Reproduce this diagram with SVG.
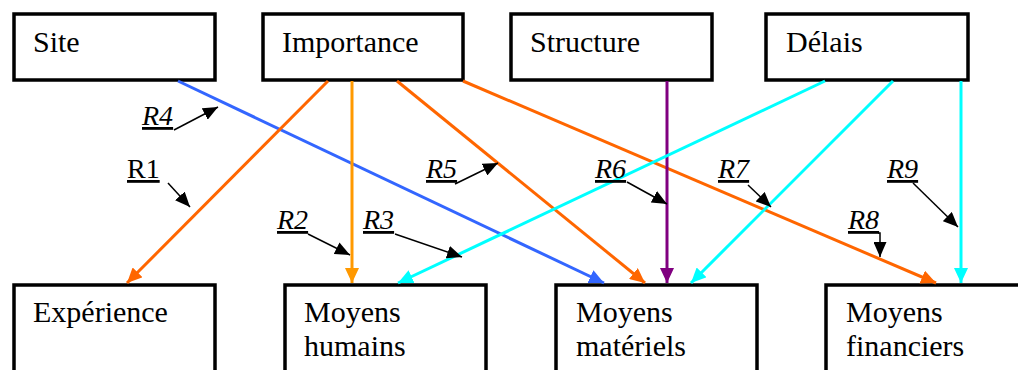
<svg xmlns="http://www.w3.org/2000/svg" width="1018" height="370" viewBox="0 0 1018 370">
<style>
.box{fill:#fff;stroke:#000;stroke-width:3.5}
.t{font-family:"Liberation Serif","Times New Roman",serif;font-size:30px;fill:#000}
.l{font-family:"Liberation Serif","Times New Roman",serif;font-size:28px;fill:#000;text-decoration:underline}
.i{font-style:italic}
.c{fill:none;stroke-width:3}
.ld{fill:none;stroke:#000;stroke-width:1.5}
</style>
<defs>
<marker id="aB" markerUnits="userSpaceOnUse" markerWidth="15" markerHeight="14" refX="15" refY="7" orient="auto"><path d="M0,0L15,7L0,14z" fill="#3366FF"/></marker>
<marker id="aO" markerUnits="userSpaceOnUse" markerWidth="15" markerHeight="14" refX="15" refY="7" orient="auto"><path d="M0,0L15,7L0,14z" fill="#FF6600"/></marker>
<marker id="aY" markerUnits="userSpaceOnUse" markerWidth="15" markerHeight="14" refX="15" refY="7" orient="auto"><path d="M0,0L15,7L0,14z" fill="#FF9900"/></marker>
<marker id="aP" markerUnits="userSpaceOnUse" markerWidth="15" markerHeight="14" refX="15" refY="7" orient="auto"><path d="M0,0L15,7L0,14z" fill="#800080"/></marker>
<marker id="aC" markerUnits="userSpaceOnUse" markerWidth="15" markerHeight="14" refX="15" refY="7" orient="auto"><path d="M0,0L15,7L0,14z" fill="#00FFFF"/></marker>
<marker id="aK" markerUnits="userSpaceOnUse" markerWidth="15" markerHeight="13" refX="15" refY="6.5" orient="auto"><path d="M0,0L15,6.5L0,13z" fill="#000"/></marker>
</defs>
<g id="site"><rect class="box" x="14" y="14" width="201" height="66"/><text class="t" x="33" y="52">Site</text></g>
<g id="importance"><rect class="box" x="263" y="14" width="200" height="66"/><text class="t" x="282" y="52">Importance</text></g>
<g id="structure"><rect class="box" x="511" y="14" width="201" height="66"/><text class="t" x="530" y="52">Structure</text></g>
<g id="delais"><rect class="box" x="766" y="14" width="202" height="66"/><text class="t" x="786" y="52">Délais</text></g>
<g id="experience"><rect class="box" x="14" y="285" width="201" height="110"/><text class="t" x="33" y="322">Expérience</text></g>
<g id="moyens-humains"><rect class="box" x="285" y="285" width="201" height="110"/><text class="t" x="304" y="322">Moyens</text><text class="t" x="304" y="356">humains</text></g>
<g id="moyens-materiels"><rect class="box" x="556" y="285" width="201" height="110"/><text class="t" x="576" y="322">Moyens</text><text class="t" x="576" y="356">matériels</text></g>
<g id="moyens-financiers"><rect class="box" x="826" y="285" width="210" height="110"/><text class="t" x="846" y="322">Moyens</text><text class="t" x="846" y="356">financiers</text></g>
<g id="connectors">
<line class="c" x1="178" y1="81" x2="604" y2="283" stroke="#3366FF" marker-end="url(#aB)"/>
<line class="c" x1="328" y1="81" x2="127" y2="283" stroke="#FF6600" marker-end="url(#aO)"/>
<line class="c" x1="352" y1="81" x2="352" y2="283" stroke="#FF9900" marker-end="url(#aY)"/>
<line class="c" x1="397" y1="81" x2="645" y2="283" stroke="#FF6600" marker-end="url(#aO)"/>
<line class="c" x1="463" y1="81" x2="936" y2="283" stroke="#FF6600" marker-end="url(#aO)"/>
<line class="c" x1="667" y1="81" x2="667" y2="283" stroke="#800080" marker-end="url(#aP)"/>
<line class="c" x1="825" y1="81" x2="398" y2="283" stroke="#00FFFF" marker-end="url(#aC)"/>
<line class="c" x1="893" y1="81" x2="691" y2="283" stroke="#00FFFF" marker-end="url(#aC)"/>
<line class="c" x1="961" y1="81" x2="961" y2="283" stroke="#00FFFF" marker-end="url(#aC)"/>
</g>
<g id="labels">
<text class="l i" x="142" y="125">R4</text>
<line class="ld" x1="174" y1="130" x2="218" y2="107" marker-end="url(#aK)"/>
<text class="l" x="127" y="178">R1</text>
<line class="ld" x1="168" y1="183" x2="190" y2="207" marker-end="url(#aK)"/>
<text class="l i" x="277" y="229">R2</text>
<line class="ld" x1="308" y1="234" x2="350" y2="255" marker-end="url(#aK)"/>
<text class="l i" x="363" y="229">R3</text>
<line class="ld" x1="395" y1="234" x2="462" y2="257" marker-end="url(#aK)"/>
<text class="l i" x="426" y="178">R5</text>
<line class="ld" x1="455" y1="184" x2="498" y2="163" marker-end="url(#aK)"/>
<text class="l i" x="595" y="178">R6</text>
<line class="ld" x1="627" y1="182" x2="667" y2="204" marker-end="url(#aK)"/>
<text class="l i" x="718" y="178">R7</text>
<line class="ld" x1="748" y1="185" x2="771" y2="207" marker-end="url(#aK)"/>
<text class="l i" x="848" y="229">R8</text>
<polyline class="ld" points="878,233 880,233 880,257" marker-end="url(#aK)"/>
<text class="l i" x="887" y="178">R9</text>
<line class="ld" x1="913" y1="183" x2="958" y2="227" marker-end="url(#aK)"/>
</g>
</svg>
